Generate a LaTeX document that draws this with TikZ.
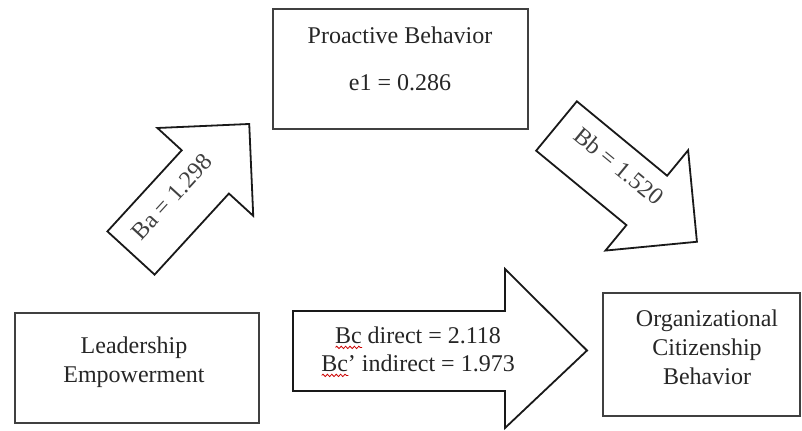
\documentclass[tikz,border=0pt]{standalone}
\usepackage{fontspec}
\setmainfont{Liberation Serif}
\usetikzlibrary{decorations.pathmorphing}
\newlength\wavelen
\newcommand\spellwave[1]{\settowidth\wavelen{#1}\rlap{\smash{\tikz[baseline=0pt,x=1pt,y=1pt]\draw[red!80!black, line width=0.4pt, decorate, decoration={snake, amplitude=0.6pt, segment length=2.2pt}] (0pt,-2.2pt) -- (\wavelen,-2.2pt);}}#1}
\begin{document}
\begin{tikzpicture}[x=0.5pt,y=0.5pt,
  box/.style={draw=black!75, line width=1pt, rectangle, inner sep=0pt},
  txt/.style={anchor=base, inner sep=0pt, font=\fontsize{12}{14.5}\selectfont, text=black!85},
  lbl/.style={anchor=center, inner sep=0pt, font=\fontsize{12}{14.5}\selectfont, text=black!75},
  fatarrow/.style={draw=black!90, line width=0.9pt, fill=white, line join=miter},
]
\useasboundingbox (0,0) rectangle (802,430);

% boxes
\node[box, minimum width=127.5pt, minimum height=60pt] (pb) at (400.5,361) {};
\node[box, minimum width=122pt, minimum height=55pt] (le) at (137,62) {};
\node[box, minimum width=98.5pt, minimum height=61.5pt] (ocb) at (701.5,75.5) {};

% box texts
\node[txt] (pb1) at (400,387) {Proactive Behavior};
\node[txt] (pb2) at (400,340) {e1 = 0.286};
\node[txt] (le1) at (134,77) {Leadership};
\node[txt] (le2) at (134,48) {Empowerment};
\node[txt] (oc1) at (707,104) {Organizational};
\node[txt] (oc2) at (707,75) {Citizenship};
\node[txt] (oc3) at (707,46) {Behavior};

% arrow Ba
\begin{scope}[shift={(131,177)}, rotate=47.5]
\draw[fatarrow] (0,-32) -- (110,-32) -- (110,-65) -- (175,0) -- (110,65) -- (110,32) -- (0,32) -- cycle;
\end{scope}
\node[lbl, rotate=47.5] (ba) at (172,233) {Ba = 1.298};

% arrow Bb
\begin{scope}[shift={(556.5,304)}, rotate=-39.5]
\draw[fatarrow] (0,-32) -- (117,-32) -- (117,-65) -- (182,0) -- (117,65) -- (117,32) -- (0,32) -- cycle;
\end{scope}
\node[lbl, rotate=-39.5] (bb) at (619,264) {Bb = 1.520};

% arrow Bc
\draw[fatarrow] (293,39) -- (505,39) -- (505,2) -- (587,79.5) -- (505,161) -- (505,119) -- (293,119) -- cycle;
\node[txt] (bc1) at (418,87) {\spellwave{Bc} direct = 2.118};
\node[txt] (bc2) at (418,59) {\spellwave{Bc}’ indirect = 1.973};
\end{tikzpicture}
\end{document}
